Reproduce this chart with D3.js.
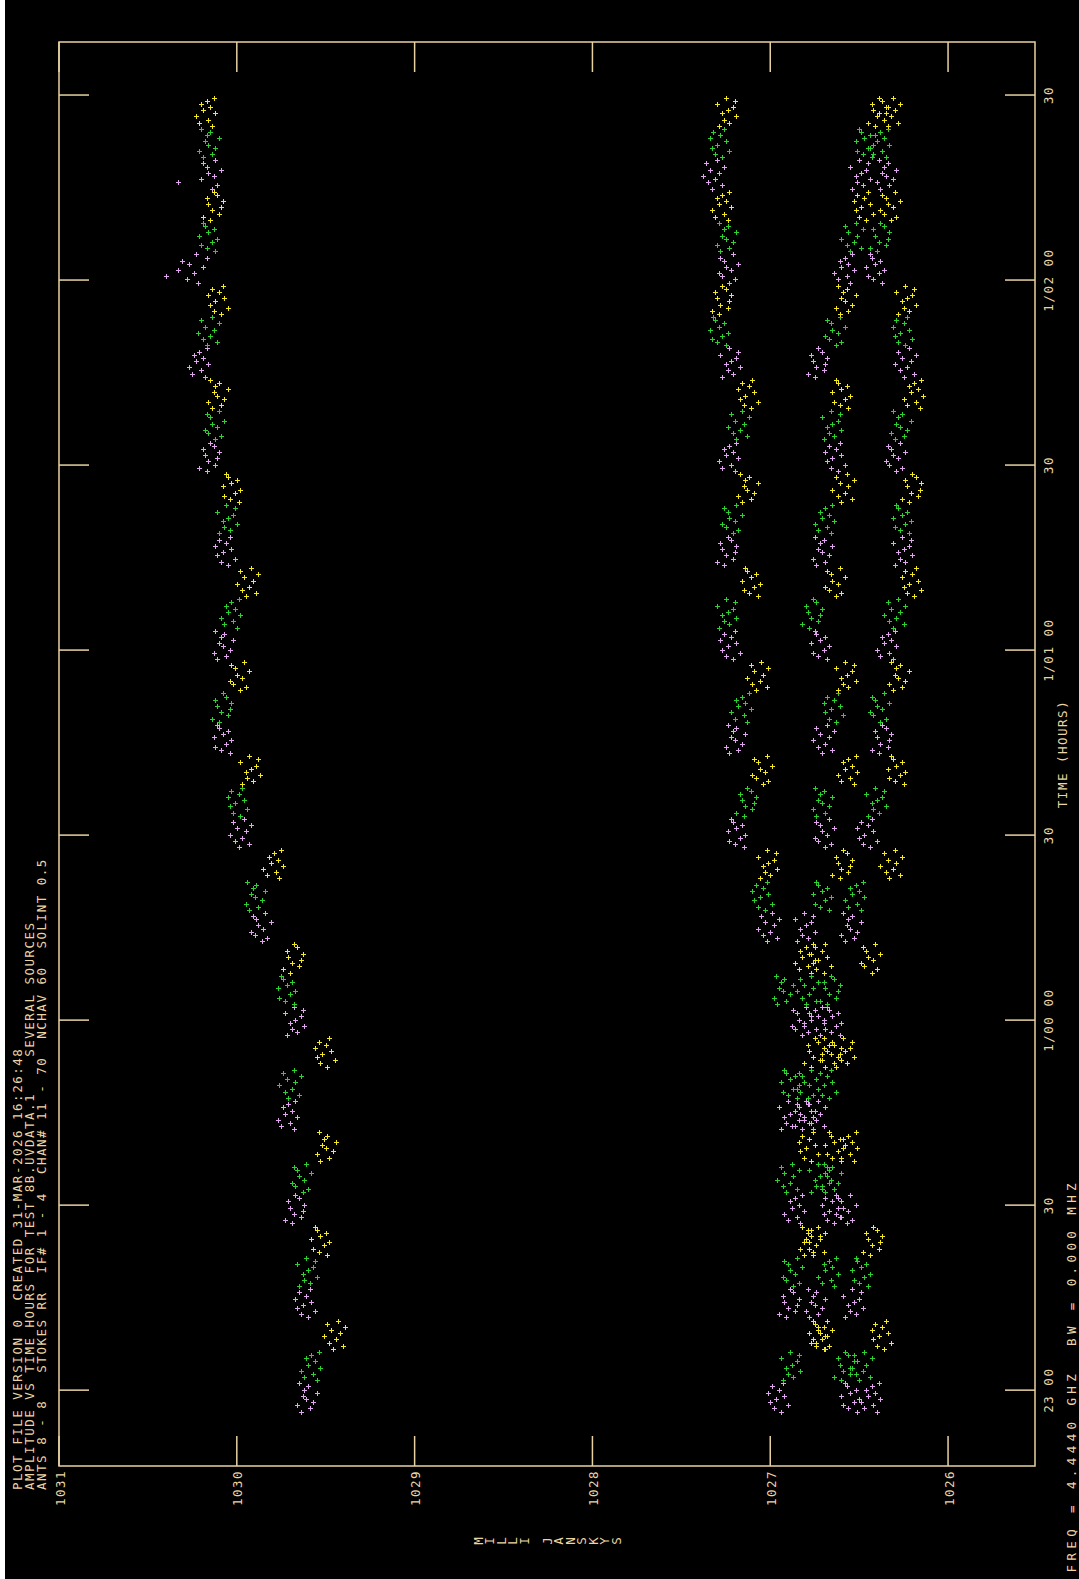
<!DOCTYPE html>
<html>
<head>
<meta charset="utf-8">
<script src="https://cdn.jsdelivr.net/npm/d3@7/dist/d3.min.js"></script>
<style>
  html, body { margin: 0; padding: 0; background: #fff; }
  svg { display: block; }
  text {
    font-family: "DejaVu Sans Mono", "Liberation Mono", monospace;
    font-size: 12.5px;
    letter-spacing: 1.5px;
    white-space: pre;
    fill: #ecd5a4;
  }
</style>
</head>
<body>
<div id="container"></div>
<script>
// amplitude vs time, 4 IFs, colours cycle with the scan (source)

const titleLines = [
    "PLOT FILE VERSION 0  CREATED 31-MAR-2026 16:26:48",
    "AMPLITUDE VS TIME HOURS FOR TEST 8B.UVDATA.1    SEVERAL SOURCES",
    "ANTS 8 - 8   STOKES RR  IF# 1 - 4  CHAN# 11 - 70  NCHAV 60  SOLINT 0.5"
];
const freqLine = "FREQ = 4.4440 GHZ  BW = 0.000 MHZ";
const xTitle = "MILLI JANSKYS";
const yTitle = "TIME (HOURS)";

const ampTicks = [1031, 1030, 1029, 1028, 1027, 1026];
// minutes after 23:00
const timeTicks = [0, 30, 60, 90, 120, 150, 180, 210];
const timeTickLabels = ["23 00", "30", "1/00 00", "30", "1/01 00", "30", "1/02 00", "30"];

const sourceColors = ["#e2a6ef", "#2ed22e", "#f4ea22"];  // scans rotate violet, green, yellow

const SCAN0 = -3.73;      // first scan start, minutes after 23:00
const SCAN_LEN = 5.085;   // minutes per scan
const PER_SCAN = 10;      // 0.5 min solutions

// one row per scan (10 solution intervals)
const ampIF1 = [
1029.64,1029.59,1029.66,1029.57,1029.61,1029.63,1029.55,1029.62,1029.60,1029.65,
1029.55,1029.62,1029.57,1029.64,1029.53,1029.60,1029.56,1029.61,1029.58,1029.54,
1029.46,1029.40,1029.48,1029.44,1029.51,1029.42,1029.47,1029.39,1029.49,1029.43,
1029.60,1029.64,1029.56,1029.66,1029.63,1029.58,1029.67,1029.61,1029.65,1029.59,
1029.65,1029.59,1029.62,1029.55,1029.63,1029.60,1029.57,1029.66,1029.56,1029.61,
1029.49,1029.54,1029.57,1029.51,1029.48,1029.58,1029.53,1029.50,1029.55,1029.56,
1029.69,1029.73,1029.64,1029.68,1029.63,1029.70,1029.62,1029.71,1029.65,1029.67,
1029.63,1029.60,1029.67,1029.69,1029.62,1029.65,1029.58,1029.66,1029.68,1029.61,
1029.53,1029.48,1029.55,1029.46,1029.50,1029.52,1029.44,1029.51,1029.49,1029.54,
1029.68,1029.75,1029.70,1029.77,1029.66,1029.73,1029.69,1029.74,1029.71,1029.67,
1029.71,1029.65,1029.73,1029.69,1029.76,1029.67,1029.72,1029.64,1029.74,1029.68,
1029.49,1029.53,1029.45,1029.55,1029.52,1029.47,1029.56,1029.50,1029.54,1029.48,
1029.72,1029.66,1029.69,1029.62,1029.70,1029.67,1029.64,1029.73,1029.63,1029.68,
1029.68,1029.73,1029.76,1029.70,1029.67,1029.77,1029.72,1029.69,1029.74,1029.75,
1029.70,1029.74,1029.65,1029.69,1029.64,1029.71,1029.63,1029.72,1029.66,1029.68,
1029.86,1029.83,1029.90,1029.92,1029.85,1029.88,1029.81,1029.89,1029.91,1029.84,
1029.93,1029.88,1029.95,1029.86,1029.90,1029.92,1029.84,1029.91,1029.89,1029.94,
1029.76,1029.83,1029.78,1029.85,1029.74,1029.81,1029.77,1029.82,1029.79,1029.75,
1029.99,1029.93,1030.01,1029.97,1030.04,1029.95,1030.00,1029.92,1030.02,1029.96,
1029.98,1030.02,1029.94,1030.04,1030.01,1029.96,1030.05,1029.99,1030.03,1029.97,
1029.97,1029.91,1029.94,1029.87,1029.95,1029.92,1029.89,1029.98,1029.88,1029.93,
1030.04,1030.09,1030.12,1030.06,1030.03,1030.13,1030.08,1030.05,1030.10,1030.11,
1030.10,1030.14,1030.05,1030.09,1030.04,1030.11,1030.03,1030.12,1030.06,1030.08,
1029.98,1029.95,1030.02,1030.04,1029.97,1030.00,1029.93,1030.01,1030.03,1029.96,
1030.11,1030.06,1030.13,1030.04,1030.08,1030.10,1030.02,1030.09,1030.07,1030.12,
1030.00,1030.07,1030.02,1030.09,1029.98,1030.05,1030.01,1030.06,1030.03,1029.99,
1029.95,1029.89,1029.97,1029.93,1030.00,1029.91,1029.96,1029.88,1029.98,1029.92,
1030.05,1030.09,1030.01,1030.11,1030.08,1030.03,1030.12,1030.06,1030.10,1030.04,
1030.10,1030.04,1030.07,1030.00,1030.08,1030.05,1030.02,1030.11,1030.01,1030.06,
1029.99,1030.04,1030.07,1030.01,1029.98,1030.08,1030.03,1030.00,1030.05,1030.06,
1030.17,1030.21,1030.12,1030.16,1030.11,1030.18,1030.10,1030.19,1030.13,1030.15,
1030.12,1030.09,1030.16,1030.18,1030.11,1030.14,1030.07,1030.15,1030.17,1030.10,
1030.14,1030.09,1030.16,1030.07,1030.11,1030.13,1030.05,1030.12,1030.10,1030.15,
1030.18,1030.25,1030.20,1030.27,1030.16,1030.23,1030.19,1030.24,1030.21,1030.17,
1030.17,1030.11,1030.19,1030.15,1030.22,1030.13,1030.18,1030.10,1030.20,1030.14,
1030.09,1030.13,1030.05,1030.15,1030.12,1030.07,1030.16,1030.10,1030.14,1030.08,
1030.22,1030.28,1030.40,1030.24,1030.33,1030.19,1030.27,1030.31,1030.17,1030.23,
1030.12,1030.17,1030.20,1030.14,1030.11,1030.21,1030.16,1030.13,1030.18,1030.19,
1030.15,1030.19,1030.10,1030.14,1030.09,1030.16,1030.08,1030.17,1030.11,1030.13,
1030.14,1030.11,1030.33,1030.20,1030.13,1030.16,1030.09,1030.17,1030.19,1030.12,
1030.19,1030.14,1030.21,1030.12,1030.16,1030.18,1030.10,1030.17,1030.15,1030.20,
1030.14,1030.21,1030.16,1030.23,1030.12,1030.19,1030.15,1030.20,1030.17,1030.13
];

const ampIF2 = [
1026.94,1026.98,1026.90,1027.00,1026.97,1026.92,1027.01,1026.95,1026.99,1026.93,
1026.93,1026.87,1026.90,1026.83,1026.91,1026.88,1026.85,1026.94,1026.84,1026.89,
1026.69,1026.74,1026.77,1026.71,1026.68,1026.78,1026.73,1026.70,1026.75,1026.76,
1026.91,1026.95,1026.86,1026.90,1026.85,1026.92,1026.84,1026.93,1026.87,1026.89,
1026.87,1026.84,1026.91,1026.93,1026.86,1026.89,1026.82,1026.90,1026.92,1026.85,
1026.81,1026.76,1026.83,1026.74,1026.78,1026.80,1026.72,1026.79,1026.77,1026.82,
1026.83,1026.90,1026.85,1026.92,1026.81,1026.88,1026.84,1026.89,1026.86,1026.82,
1026.91,1026.85,1026.93,1026.89,1026.96,1026.87,1026.92,1026.84,1026.94,1026.88,
1026.77,1026.81,1026.73,1026.83,1026.80,1026.75,1026.84,1026.78,1026.82,1026.76,
1026.94,1026.88,1026.91,1026.84,1026.92,1026.89,1026.86,1026.95,1026.85,1026.90,
1026.85,1026.90,1026.93,1026.87,1026.84,1026.94,1026.89,1026.86,1026.91,1026.92,
1026.77,1026.81,1026.72,1026.76,1026.71,1026.78,1026.70,1026.79,1026.73,1026.75,
1026.82,1026.79,1026.86,1026.88,1026.81,1026.84,1026.77,1026.85,1026.87,1026.80,
1026.96,1026.91,1026.98,1026.89,1026.93,1026.95,1026.87,1026.94,1026.92,1026.97,
1026.77,1026.84,1026.79,1026.86,1026.75,1026.82,1026.78,1026.83,1026.80,1026.76,
1027.02,1026.96,1027.04,1027.00,1027.07,1026.98,1027.03,1026.95,1027.05,1026.99,
1027.03,1027.07,1026.99,1027.09,1027.06,1027.01,1027.10,1027.04,1027.08,1027.02,
1027.06,1027.00,1027.03,1026.96,1027.04,1027.01,1026.98,1027.07,1026.97,1027.02,
1027.15,1027.20,1027.23,1027.17,1027.14,1027.24,1027.19,1027.16,1027.21,1027.22,
1027.15,1027.19,1027.10,1027.14,1027.09,1027.16,1027.08,1027.17,1027.11,1027.13,
1027.04,1027.01,1027.08,1027.10,1027.03,1027.06,1026.99,1027.07,1027.09,1027.02,
1027.23,1027.18,1027.25,1027.16,1027.20,1027.22,1027.14,1027.21,1027.19,1027.24,
1027.13,1027.20,1027.15,1027.22,1027.11,1027.18,1027.14,1027.19,1027.16,1027.12,
1027.08,1027.02,1027.10,1027.06,1027.13,1027.04,1027.09,1027.01,1027.11,1027.05,
1027.21,1027.25,1027.17,1027.27,1027.24,1027.19,1027.28,1027.22,1027.26,1027.20,
1027.29,1027.23,1027.26,1027.19,1027.27,1027.24,1027.21,1027.30,1027.20,1027.25,
1027.07,1027.12,1027.15,1027.09,1027.06,1027.16,1027.11,1027.08,1027.13,1027.14,
1027.26,1027.30,1027.21,1027.25,1027.20,1027.27,1027.19,1027.28,1027.22,1027.24,
1027.21,1027.18,1027.25,1027.27,1027.20,1027.23,1027.16,1027.24,1027.26,1027.19,
1027.16,1027.11,1027.18,1027.09,1027.13,1027.15,1027.07,1027.14,1027.12,1027.17,
1027.20,1027.27,1027.22,1027.29,1027.18,1027.25,1027.21,1027.26,1027.23,1027.19,
1027.19,1027.13,1027.21,1027.17,1027.24,1027.15,1027.20,1027.12,1027.22,1027.16,
1027.11,1027.15,1027.07,1027.17,1027.14,1027.09,1027.18,1027.12,1027.16,1027.10,
1027.27,1027.21,1027.24,1027.17,1027.25,1027.22,1027.19,1027.28,1027.18,1027.23,
1027.25,1027.30,1027.33,1027.27,1027.24,1027.34,1027.29,1027.26,1027.31,1027.32,
1027.29,1027.33,1027.24,1027.28,1027.23,1027.30,1027.22,1027.31,1027.25,1027.27,
1027.23,1027.20,1027.27,1027.29,1027.22,1027.25,1027.18,1027.26,1027.28,1027.21,
1027.28,1027.23,1027.30,1027.21,1027.25,1027.27,1027.19,1027.26,1027.24,1027.29,
1027.24,1027.31,1027.26,1027.33,1027.22,1027.29,1027.25,1027.30,1027.27,1027.23,
1027.33,1027.27,1027.35,1027.31,1027.38,1027.29,1027.34,1027.26,1027.36,1027.30,
1027.27,1027.31,1027.23,1027.33,1027.30,1027.25,1027.34,1027.28,1027.32,1027.26,
1027.29,1027.23,1027.26,1027.19,1027.27,1027.24,1027.21,1027.30,1027.20,1027.25
];

const ampIF3 = [
1026.51,1026.56,1026.59,1026.53,1026.50,1026.60,1026.55,1026.52,1026.57,1026.58,
1026.60,1026.64,1026.55,1026.59,1026.54,1026.61,1026.53,1026.62,1026.56,1026.58,
1026.70,1026.67,1026.74,1026.76,1026.69,1026.72,1026.65,1026.73,1026.75,1026.68,
1026.78,1026.73,1026.80,1026.71,1026.75,1026.77,1026.69,1026.76,1026.74,1026.79,
1026.64,1026.71,1026.66,1026.73,1026.62,1026.69,1026.65,1026.70,1026.67,1026.63,
1026.76,1026.70,1026.78,1026.74,1026.81,1026.72,1026.77,1026.69,1026.79,1026.73,
1026.64,1026.68,1026.60,1026.70,1026.67,1026.62,1026.71,1026.65,1026.69,1026.63,
1026.77,1026.71,1026.74,1026.67,1026.75,1026.72,1026.69,1026.78,1026.68,1026.73,
1026.60,1026.65,1026.68,1026.62,1026.59,1026.69,1026.64,1026.61,1026.66,1026.67,
1026.82,1026.86,1026.77,1026.81,1026.76,1026.83,1026.75,1026.84,1026.78,1026.80,
1026.79,1026.76,1026.83,1026.85,1026.78,1026.81,1026.74,1026.82,1026.84,1026.77,
1026.69,1026.64,1026.71,1026.62,1026.66,1026.68,1026.60,1026.67,1026.65,1026.70,
1026.72,1026.79,1026.74,1026.81,1026.70,1026.77,1026.73,1026.78,1026.75,1026.71,
1026.80,1026.74,1026.82,1026.78,1026.85,1026.76,1026.81,1026.73,1026.83,1026.77,
1026.70,1026.74,1026.66,1026.76,1026.73,1026.68,1026.77,1026.71,1026.75,1026.69,
1026.85,1026.79,1026.82,1026.75,1026.83,1026.80,1026.77,1026.86,1026.76,1026.81,
1026.67,1026.72,1026.75,1026.69,1026.66,1026.76,1026.71,1026.68,1026.73,1026.74,
1026.61,1026.65,1026.56,1026.60,1026.55,1026.62,1026.54,1026.63,1026.57,1026.59,
1026.69,1026.66,1026.73,1026.75,1026.68,1026.71,1026.64,1026.72,1026.74,1026.67,
1026.74,1026.69,1026.76,1026.67,1026.71,1026.73,1026.65,1026.72,1026.70,1026.75,
1026.53,1026.60,1026.55,1026.62,1026.51,1026.58,1026.54,1026.59,1026.56,1026.52,
1026.71,1026.65,1026.73,1026.69,1026.76,1026.67,1026.72,1026.64,1026.74,1026.68,
1026.63,1026.67,1026.59,1026.69,1026.66,1026.61,1026.70,1026.64,1026.68,1026.62,
1026.62,1026.56,1026.59,1026.52,1026.60,1026.57,1026.54,1026.63,1026.53,1026.58,
1026.68,1026.73,1026.76,1026.70,1026.67,1026.77,1026.72,1026.69,1026.74,1026.75,
1026.78,1026.82,1026.73,1026.77,1026.72,1026.79,1026.71,1026.80,1026.74,1026.76,
1026.63,1026.60,1026.67,1026.69,1026.62,1026.65,1026.58,1026.66,1026.68,1026.61,
1026.74,1026.69,1026.76,1026.67,1026.71,1026.73,1026.65,1026.72,1026.70,1026.75,
1026.66,1026.73,1026.68,1026.75,1026.64,1026.71,1026.67,1026.72,1026.69,1026.65,
1026.60,1026.54,1026.62,1026.58,1026.65,1026.56,1026.61,1026.53,1026.63,1026.57,
1026.62,1026.66,1026.58,1026.68,1026.65,1026.60,1026.69,1026.63,1026.67,1026.61,
1026.70,1026.64,1026.67,1026.60,1026.68,1026.65,1026.62,1026.71,1026.61,1026.66,
1026.56,1026.61,1026.64,1026.58,1026.55,1026.65,1026.60,1026.57,1026.62,1026.63,
1026.75,1026.79,1026.70,1026.74,1026.69,1026.76,1026.68,1026.77,1026.71,1026.73,
1026.63,1026.60,1026.67,1026.69,1026.62,1026.65,1026.58,1026.66,1026.68,1026.61,
1026.61,1026.56,1026.63,1026.54,1026.58,1026.60,1026.52,1026.59,1026.57,1026.62,
1026.55,1026.62,1026.57,1026.64,1026.53,1026.60,1026.56,1026.61,1026.58,1026.54,
1026.55,1026.49,1026.57,1026.53,1026.60,1026.51,1026.56,1026.48,1026.58,1026.52,
1026.46,1026.50,1026.42,1026.52,1026.49,1026.44,1026.53,1026.47,1026.51,1026.45,
1026.54,1026.48,1026.51,1026.44,1026.52,1026.49,1026.46,1026.55,1026.45,1026.50,
1026.43,1026.48,1026.51,1026.45,1026.42,1026.52,1026.47,1026.44,1026.49,1026.50,
1026.41,1026.45,1026.36,1026.40,1026.35,1026.42,1026.34,1026.43,1026.37,1026.39
];

const ampIF4 = [
1026.40,1026.47,1026.42,1026.49,1026.38,1026.45,1026.41,1026.46,1026.43,1026.39,
1026.50,1026.44,1026.52,1026.48,1026.55,1026.46,1026.51,1026.43,1026.53,1026.47,
1026.36,1026.40,1026.32,1026.42,1026.39,1026.34,1026.43,1026.37,1026.41,1026.35,
1026.58,1026.52,1026.55,1026.48,1026.56,1026.53,1026.50,1026.59,1026.49,1026.54,
1026.45,1026.50,1026.53,1026.47,1026.44,1026.54,1026.49,1026.46,1026.51,1026.52,
1026.44,1026.48,1026.39,1026.43,1026.38,1026.45,1026.37,1026.46,1026.40,1026.42,
1026.57,1026.54,1026.61,1026.63,1026.56,1026.59,1026.52,1026.60,1026.62,1026.55,
1026.69,1026.64,1026.71,1026.62,1026.66,1026.68,1026.60,1026.67,1026.65,1026.70,
1026.53,1026.60,1026.55,1026.62,1026.51,1026.58,1026.54,1026.59,1026.56,1026.52,
1026.76,1026.70,1026.78,1026.74,1026.81,1026.72,1026.77,1026.69,1026.79,1026.73,
1026.67,1026.71,1026.63,1026.73,1026.70,1026.65,1026.74,1026.68,1026.72,1026.66,
1026.63,1026.57,1026.60,1026.53,1026.61,1026.58,1026.55,1026.64,1026.54,1026.59,
1026.61,1026.66,1026.69,1026.63,1026.60,1026.70,1026.65,1026.62,1026.67,1026.68,
1026.68,1026.72,1026.63,1026.67,1026.62,1026.69,1026.61,1026.70,1026.64,1026.66,
1026.43,1026.40,1026.47,1026.49,1026.42,1026.45,1026.38,1026.46,1026.48,1026.41,
1026.58,1026.53,1026.60,1026.51,1026.55,1026.57,1026.49,1026.56,1026.54,1026.59,
1026.49,1026.56,1026.51,1026.58,1026.47,1026.54,1026.50,1026.55,1026.52,1026.48,
1026.33,1026.27,1026.35,1026.31,1026.38,1026.29,1026.34,1026.26,1026.36,1026.30,
1026.44,1026.48,1026.40,1026.50,1026.47,1026.42,1026.51,1026.45,1026.49,1026.43,
1026.45,1026.39,1026.42,1026.35,1026.43,1026.40,1026.37,1026.46,1026.36,1026.41,
1026.25,1026.30,1026.33,1026.27,1026.24,1026.34,1026.29,1026.26,1026.31,1026.32,
1026.39,1026.43,1026.34,1026.38,1026.33,1026.40,1026.32,1026.41,1026.35,1026.37,
1026.38,1026.35,1026.42,1026.44,1026.37,1026.40,1026.33,1026.41,1026.43,1026.36,
1026.31,1026.26,1026.33,1026.24,1026.28,1026.30,1026.22,1026.29,1026.27,1026.32,
1026.31,1026.38,1026.33,1026.40,1026.29,1026.36,1026.32,1026.37,1026.34,1026.30,
1026.31,1026.25,1026.33,1026.29,1026.36,1026.27,1026.32,1026.24,1026.34,1026.28,
1026.19,1026.23,1026.15,1026.25,1026.22,1026.17,1026.26,1026.20,1026.24,1026.18,
1026.30,1026.24,1026.27,1026.20,1026.28,1026.25,1026.22,1026.31,1026.21,1026.26,
1026.22,1026.27,1026.30,1026.24,1026.21,1026.31,1026.26,1026.23,1026.28,1026.29,
1026.22,1026.26,1026.17,1026.21,1026.16,1026.23,1026.15,1026.24,1026.18,1026.20,
1026.29,1026.26,1026.33,1026.35,1026.28,1026.31,1026.24,1026.32,1026.34,1026.27,
1026.30,1026.25,1026.32,1026.23,1026.27,1026.29,1026.21,1026.28,1026.26,1026.31,
1026.16,1026.23,1026.18,1026.25,1026.14,1026.21,1026.17,1026.22,1026.19,1026.15,
1026.25,1026.19,1026.27,1026.23,1026.30,1026.21,1026.26,1026.18,1026.28,1026.22,
1026.24,1026.28,1026.20,1026.30,1026.27,1026.22,1026.31,1026.25,1026.29,1026.23,
1026.28,1026.22,1026.25,1026.18,1026.26,1026.23,1026.20,1026.29,1026.19,1026.24,
1026.37,1026.42,1026.45,1026.39,1026.36,1026.46,1026.41,1026.38,1026.43,1026.44,
1026.40,1026.44,1026.35,1026.39,1026.34,1026.41,1026.33,1026.42,1026.36,1026.38,
1026.32,1026.29,1026.36,1026.38,1026.31,1026.34,1026.27,1026.35,1026.37,1026.30,
1026.38,1026.33,1026.40,1026.31,1026.35,1026.37,1026.29,1026.36,1026.34,1026.39,
1026.35,1026.42,1026.37,1026.44,1026.33,1026.40,1026.36,1026.41,1026.38,1026.34,
1026.34,1026.28,1026.36,1026.32,1026.39,1026.30,1026.35,1026.27,1026.37,1026.31
];

const series = [ampIF1, ampIF2, ampIF3, ampIF4];

const width = 1079,
      height = 1579;

const frameColor = "#e8d2a2";

var svg = d3.select("#container").append("svg")
    .attr("width", width)
    .attr("height", height);

svg.append("rect")
    .attr("x", 5).attr("y", 0)
    .attr("width", width - 5).attr("height", height)
    .attr("fill", "#000");

// amplitude runs right to left, time runs bottom to top (plot turned on its side)
const x = d3.scaleLinear()
    .domain([1031, 1025.511])
    .range([59, 1035]);

const y = d3.scaleLinear()
    .domain([-12.3, 218.6])
    .range([1466, 42]);

const [x0, x1] = x.range(),
      [y0, y1] = y.range();   // y0 bottom, y1 top
const tickLen = 30;

var axes = svg.append("g")
    .attr("stroke", frameColor)
    .attr("stroke-width", 1.5)
    .attr("fill", "none");

axes.append("rect")
    .attr("x", x0).attr("y", y1)
    .attr("width", x1 - x0).attr("height", y0 - y1);

axes.selectAll("line.amp-b")
    .data(ampTicks)
    .enter().append("line")
    .attr("x1", d => x(d)).attr("x2", d => x(d))
    .attr("y1", y0).attr("y2", y0 - tickLen);

axes.selectAll("line.amp-t")
    .data(ampTicks)
    .enter().append("line")
    .attr("x1", d => x(d)).attr("x2", d => x(d))
    .attr("y1", y1).attr("y2", y1 + tickLen);

axes.selectAll("line.time-l")
    .data(timeTicks)
    .enter().append("line")
    .attr("x1", x0).attr("x2", x0 + tickLen)
    .attr("y1", d => y(d)).attr("y2", d => y(d));

axes.selectAll("line.time-r")
    .data(timeTicks)
    .enter().append("line")
    .attr("x1", x1).attr("x2", x1 - tickLen)
    .attr("y1", d => y(d)).attr("y2", d => y(d));

// rotated text helper: reads bottom to top
function vtext(g, str, tx, ty, anchor){
    return g.append("text")
	.attr("transform", "translate(" + tx + "," + ty + ") rotate(-90)")
	.attr("text-anchor", anchor)
	.attr("dy", "0.36em")
	.text(str);
}

var labels = svg.append("g");

ampTicks.forEach(function(v){
    vtext(labels, d3.format("d")(v), x(v) + 1, 1488, "middle");
});

timeTicks.forEach(function(t, i){
    vtext(labels, timeTickLabels[i], 1048, y(t), "middle");
});

vtext(labels, yTitle, 1062, (y0 + y1) / 2, "middle");
vtext(labels, freqLine, 1071, 1179, "end")
    .style("letter-spacing", "4.4px");

titleLines.forEach(function(s, i){
    vtext(labels, s, 17 + i * 12, 1490, "start");
});

// x axis title: characters stacked in the original, so each one is turned on its own
xTitle.split("").forEach(function(c, i){
    var cx = (x0 + x1) / 2 + (i - (xTitle.length - 1) / 2) * 11.5;
    labels.append("text")
	.attr("transform", "translate(" + cx + ",1541) rotate(-90)")
	.attr("text-anchor", "middle")
	.attr("dy", "0.36em")
	.style("letter-spacing", "0px")
	.text(c);
});

// the points
var pts = [];
series.forEach(function(arr){
    arr.forEach(function(v, i){
	var k = Math.floor(i / PER_SCAN),
	    j = i % PER_SCAN;
	pts.push({
	    t: SCAN0 + k * SCAN_LEN + (j + 0.5) * SCAN_LEN / PER_SCAN,
	    amp: v,
	    src: k % 3
	});
    });
});

svg.append("g")
    .attr("stroke-width", 1)
    .attr("fill", "none")
    .selectAll("path")
    .data(pts)
    .enter().append("path")
    .attr("transform", d => "translate(" + (Math.round(x(d.amp)) + 0.5) + "," + (Math.round(y(d.t)) + 0.5) + ")")
    .attr("d", "M-2.5,0H2.5M0,-2.5V2.5")
    .attr("stroke", d => sourceColors[d.src]);
</script>
</body>
</html>
